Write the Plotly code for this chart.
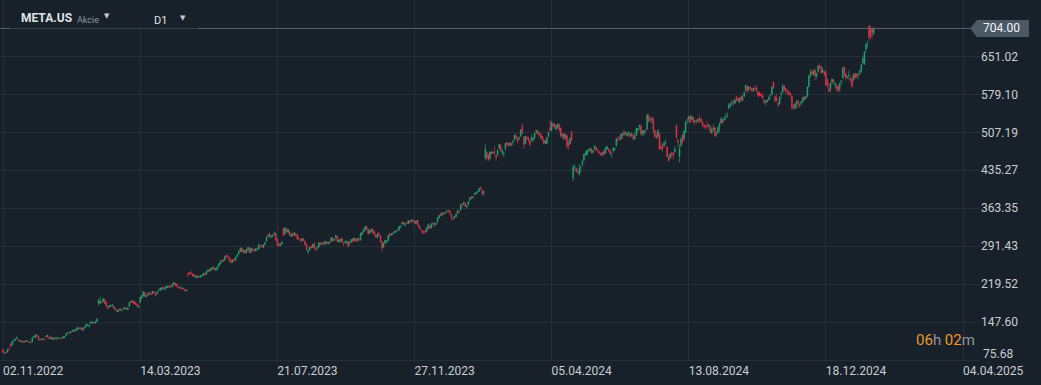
import plotly.graph_objects as go

# ---------------- data (daily bars META.US, D1) ----------------
opens = [
    # 2022-11
    95, 89, 90, 91, 97, 105, 104, 112, 113, 116, 114, 110, 113, 111, 110, 111, 112, 110, 108.5, 110,
    # 2022-12
    119, 118, 122, 121, 114, 115, 115, 115, 120, 120, 119, 116, 119, 114, 117, 117, 117, 117, 116, 117, 118,
    # 2023-01
    122, 127, 127, 128, 131, 130, 132, 132, 135, 136, 137, 132, 137, 139, 142, 140, 145, 146, 146, 146,
    # 2023-02
    149, 183, 183, 186, 186, 190, 186, 177, 176, 178, 178, 177, 172, 170, 168, 173, 169, 172, 172,
    # 2023-03
    174, 171, 177, 187, 185, 187, 183, 182, 175, 185, 192, 197, 204, 196, 199, 201, 201, 202, 205, 202, 201, 207, 208,
    # 2023-04
    209, 213, 210, 212, 213, 215, 215, 215, 219, 221, 219, 213, 212, 212, 212, 209, 208, 239, 241,
    # 2023-05
    241, 239, 237, 233, 232, 234, 233, 235, 236, 240, 238, 243, 247, 245, 250, 251, 247, 246, 253, 258, 263, 265,
    # 2023-06
    265, 274, 272, 270, 264, 261, 266, 265, 272, 276, 282, 288, 281, 283, 279, 284, 288, 280, 286, 285, 283,
    # 2023-07
    285, 286, 292.5, 292, 289, 295, 301, 311, 314, 309, 310, 314, 316, 305, 296, 293, 296, 325, 316, 324,
    # 2023-08
    318, 319, 310, 314, 312, 315, 314, 307, 303, 302, 305, 301, 295, 281, 284, 291, 289, 297, 286, 287, 290, 298, 296,
    # 2023-09
    299, 295, 300, 296, 299, 300, 306, 302, 308, 310, 299, 302, 306, 297, 298, 298, 300, 297, 299, 306,
    # 2023-10
    302, 305, 302, 306, 303, 313, 318, 322, 329, 324, 316, 319, 322, 318, 312, 308, 316, 311, 300, 290, 297, 300,
    # 2023-11
    301, 315, 313, 315, 317, 319, 321.5, 322, 328, 334, 337, 332, 335.5, 334, 339, 339, 341, 337, 335, 341, 331,
    # 2023-12
    326, 321, 318.5, 321, 319, 325, 330, 326, 334.5, 334, 332, 337, 345, 351, 350, 355, 354, 357, 359, 358,
    # 2024-01
    351, 344.5, 345, 347, 353, 357.5, 360, 371, 371, 373, 366, 370, 380, 385, 383, 389, 391, 394, 395, 402, 397,
    # 2024-02
    393, 459, 469, 464, 458, 468, 470, 469.5, 463, 465, 477, 481, 469, 466, 476, 488, 485, 483, 485, 489,
    # 2024-03
    493, 500, 496, 495, 500, 518, 498, 486, 498, 496, 491, 492, 493, 496, 511, 506, 505, 503, 500, 493,
    # 2024-04
    487, 486, 499, 516, 510, 523, 522, 513, 517, 522, 515, 500, 505, 497, 501, 487, 485, 508, 421, 441, 439, 431,
    # 2024-05
    428, 441, 446, 454, 465, 464, 472, 474, 476, 469, 475, 478, 472.5, 470, 468, 466, 472, 468, 475, 475, 473, 466,
    # 2024-06
    472, 475, 482, 495.5, 495, 494, 504, 503, 508, 501, 505, 505, 501, 502, 495, 501, 512, 517, 519,
    # 2024-07
    505, 506, 511, 513, 538, 531, 532, 533, 511, 500, 499, 505, 481, 479, 481, 488, 480, 460, 458, 468, 468, 470,
    # 2024-08
    520, 491, 461, 482, 502, 495, 508, 530, 532, 538, 532, 535, 528, 528, 528, 532, 533, 527, 521, 519, 520, 519,
    # 2024-09
    518, 506, 513, 516, 505, 507, 517, 525, 531, 531, 536, 537, 553, 557, 563, 565, 562, 574, 570, 564,
    # 2024-10
    575, 568, 575, 587, 594, 589, 592, 590, 585, 591, 591, 584, 581, 579, 576, 568, 565, 565, 569, 577, 579, 602, 575,
    # 2024-11
    571, 562, 561, 579, 583, 595, 590, 585, 583, 581, 575, 556, 552, 561, 566, 561, 562, 565, 575, 571,
    # 2024-12
    575, 594, 614, 622, 617, 624, 614, 622, 633, 632, 621, 622, 620, 606, 590, 590, 602, 606, 597, 596, 594,
    # 2025-01 / 02
    590, 602, 611, 630, 618, 611, 614, 610, 608, 607, 619, 617, 616, 620, 623, 639, 636, 665, 675, 708, 702, 704, 694,
]

highs = [
    # 2022-11
    96, 91, 91, 97, 98, 108, 112, 115, 118, 121, 115, 113, 114, 111, 111, 113, 113, 111, 110, 118,
    # 2022-12
    121, 124, 124, 122, 116, 116, 117, 115, 123, 124, 120, 120, 120, 118, 118, 118, 119, 118, 118, 121, 120,
    # 2023-01
    127, 129, 128, 130, 133, 133, 133, 137, 138, 137, 138, 137, 140, 145, 144, 142, 148, 149, 148, 149,
    # 2023-02
    155, 191, 196, 187, 192, 192, 186, 178, 180, 181, 181, 177, 174, 171, 172, 174, 171, 174, 176,
    # 2023-03
    176, 175, 186, 189, 190, 188, 187, 183, 180, 195, 198, 206, 204, 199, 204, 205, 204, 207, 206, 202, 206, 209, 212,
    # 2023-04
    214, 215, 214, 217, 216, 218, 218, 221, 224, 222, 220, 214, 216, 213, 213, 210, 210, 242, 242,
    # 2023-05
    245, 240, 239, 236, 236, 236, 236, 237, 240, 241, 244, 248, 248, 251, 253, 252, 250, 253, 259, 264, 266, 268,
    # 2023-06
    273, 276, 274, 271, 268, 266, 268, 272, 276, 284, 289, 289, 285, 284, 286, 290, 290, 288, 288, 286, 288,
    # 2023-07
    289, 296, 294, 294, 295, 299, 310, 314, 318, 312, 314, 319, 317, 306, 297, 297, 301, 327, 326, 326,
    # 2023-08
    324, 320, 316, 318, 317, 316, 314, 309, 305, 307, 307, 302, 296, 286, 290, 292, 295, 297, 289, 291, 299, 298, 299,
    # 2023-09
    300, 302, 301, 300, 301, 308, 308, 306, 312, 311, 305, 306, 307, 299, 303, 301, 302, 301, 305, 306,
    # 2023-10
    308, 306, 306, 306, 317, 319, 325, 329, 330, 325, 322, 326, 325, 322, 313, 317, 317, 312, 301, 298, 303, 302,
    # 2023-11
    312, 317, 316, 317, 321, 321, 324, 329, 330, 337, 338, 335, 337, 341, 340, 342, 342, 340, 340, 341, 332,
    # 2023-12
    327, 322, 321, 323, 327, 334, 331, 335, 336, 337, 336, 346, 351, 356, 355, 356, 356, 359, 361, 359,
    # 2024-01
    353, 347, 349, 353, 359, 360, 372, 372, 376, 374, 369, 377, 384, 387, 386, 392, 395, 397, 402, 405, 399,
    # 2024-02
    395, 485, 471, 467, 471, 471, 471, 481, 465, 475, 485, 485, 476, 469, 487, 489, 488, 489, 488, 493,
    # 2024-03
    503, 505, 499, 500, 513, 524, 500, 500, 500, 499, 492, 503, 498, 506, 512, 510, 508, 507, 500, 494,
    # 2024-04
    492, 498, 509, 531, 528, 526, 525, 520, 525, 523, 516, 504, 506, 505, 502, 492, 497, 510, 446, 446, 440, 436,
    # 2024-05
    447, 444, 455, 466, 472, 473, 476, 477, 477, 473, 482, 479, 475, 473, 469, 470, 473, 479, 482, 478, 475, 468,
    # 2024-06
    479, 478, 496, 500, 500, 505, 506, 512, 508, 506, 510, 507, 508, 503, 507, 516, 515, 522, 522,
    # 2024-07
    511, 511, 513, 543, 542, 537, 536, 535, 512, 507, 513, 506, 489, 485, 490, 493, 481, 465, 468, 470, 470, 481,
    # 2024-08
    523, 495, 484, 499, 504, 510, 528, 534, 538, 540, 539, 536, 530, 531, 534, 540, 534, 529, 523, 521, 528, 523,
    # 2024-09
    521, 516, 523, 517, 508, 518, 526, 536, 534, 538, 543, 545, 563, 564, 568, 568, 571, 576, 574, 573,
    # 2024-10
    578, 577, 584, 598, 596, 595, 595, 591, 592, 596, 596, 585, 584, 582, 579, 570, 568, 570, 577, 580, 595, 603, 577,
    # 2024-11
    580, 565, 575, 584, 599, 597, 591, 588, 587, 582, 576, 560, 563, 568, 568, 563, 568, 574, 576, 576,
    # 2024-12
    595, 616, 627, 626, 625, 629, 620, 635, 638, 633, 630, 624, 626, 610, 600, 602, 608, 608, 602, 598, 596,
    # 2025-01 / 02
    601, 606, 630, 632, 619, 613, 625, 611, 613, 618, 620, 619, 620, 626, 637, 652, 660, 675, 680, 711, 710, 706, 706,
]

lows = [
    # 2022-11
    90, 88, 87, 91, 94, 101, 103, 109, 112, 115, 112, 110, 110, 108, 108, 110, 110, 108, 108, 109,
    # 2022-12
    117, 118, 120, 113, 113, 113, 114, 112, 118, 119, 115, 115, 114, 113, 116, 113, 116, 115, 115, 117, 118,
    # 2023-01
    122, 125, 125, 126, 129, 129, 130, 131, 134, 134, 132, 131, 135, 139, 140, 137, 144, 146, 145, 145,
    # 2023-02
    147, 178, 182, 183, 185, 182, 177, 172, 175, 176, 177, 172, 169, 167, 167, 169, 168, 171, 172,
    # 2023-03
    171, 170, 176, 183, 184, 182, 180, 176, 174, 183, 191, 195, 195, 193, 197, 199, 198, 200, 201, 196, 200, 205, 207,
    # 2023-04
    208, 209, 207, 211, 212, 213, 213, 214, 218, 216, 213, 211, 210, 210, 208, 206, 205, 233, 236,
    # 2023-05
    238, 234, 233, 230, 231, 231, 231, 232, 235, 236, 237, 242, 243, 244, 248, 245, 245, 245, 251, 256, 260, 262,
    # 2023-06
    264, 270, 268, 262, 259, 260, 263, 264, 270, 275, 280, 279, 278, 277, 278, 283, 278, 279, 283, 280, 282,
    # 2023-07
    283, 285, 288, 289, 288, 293, 300, 308, 307, 306, 308, 312, 301, 292, 290, 291, 294, 310, 313, 317,
    # 2023-08
    316, 311, 309, 309, 311, 309, 303, 303, 299, 300, 301, 294, 285, 275, 283, 287, 288, 286, 281, 285, 289, 293, 294,
    # 2023-09
    294, 294, 295, 294, 296, 299, 301, 301, 304, 299, 298, 299, 299, 292, 296, 296, 288, 292, 298, 299,
    # 2023-10
    301, 299, 300, 300, 302, 312, 317, 321, 321, 313, 315, 317, 315, 311, 307, 306, 310, 298, 280, 288, 296, 297,
    # 2023-11
    300, 309, 311, 312, 316, 316, 319, 320, 325, 331, 331, 328, 333, 334, 334, 336, 337, 333, 333, 331, 325,
    # 2023-12
    321, 315, 314, 316, 318, 324, 324, 325, 330, 328, 331, 336, 343, 348, 348, 351, 352, 354, 356, 351,
    # 2024-01
    340, 340, 343, 346, 352, 354, 359, 364, 369, 366, 362, 369, 377, 380, 382, 388, 388, 391, 395, 398, 390,
    # 2024-02
    386, 453, 456, 453, 454, 465, 465, 465, 453, 462, 475, 470, 464, 460, 472, 481, 480, 480, 481, 483,
    # 2024-03
    492, 494, 486, 492, 498, 503, 476, 484, 492, 489, 481, 490, 488, 494, 504, 502, 499, 495, 490, 484,
    # 2024-04
    485, 485, 498, 510, 509, 516, 513, 511, 514, 508, 497, 496, 492, 494, 475, 474, 484, 490, 414, 435, 431, 429,
    # 2024-05
    425, 431, 444, 453, 463, 463, 469, 470, 467, 467, 474, 472, 468, 465, 461, 462, 462, 467, 474, 469, 465, 458,
    # 2024-06
    469, 472, 480, 489, 491, 493, 495, 501, 500, 499, 500, 497, 499, 492, 492, 500, 507, 511, 501,
    # 2024-07
    500, 500, 505, 512, 525, 526, 524, 506, 497, 494, 497, 473, 474, 470, 479, 484, 460, 453, 456, 460, 456, 468,
    # 2024-08
    494, 479, 450, 478, 486, 491, 505, 522, 527, 526, 530, 525, 522, 524, 526, 524, 525, 517, 515, 511, 516, 513,
    # 2024-09
    505, 504, 510, 499, 499, 504, 508, 523, 524, 528, 530, 535, 551, 553, 558, 558, 561, 565, 565, 562,
    # 2024-10
    565, 566, 574, 584, 582, 585, 586, 583, 584, 588, 583, 573, 575, 574, 568, 561, 558, 563, 567, 572, 578, 589, 564,
    # 2024-11
    565, 554, 559, 571, 582, 586, 580, 578, 577, 573, 550, 550, 551, 553, 553, 555, 558, 563, 567, 569,
    # 2024-12
    574, 592, 611, 616, 614, 606, 608, 620, 627, 618, 620, 613, 595, 592, 584, 583, 598, 600, 590, 585, 583,
    # 2025-01 / 02
    584, 596, 608, 612, 605, 609, 606, 600, 592, 604, 608, 609, 608, 615, 620, 636, 635, 658, 668, 680, 684, 684, 691,
]

closes = [
    # 2022-11
    90, 88.5, 91, 96, 96, 101, 111, 113, 114, 117, 113, 111, 112, 109, 111, 112, 111, 109, 109.5, 118,
    # 2022-12
    120, 124, 122, 114, 113.5, 115.5, 116, 114.5, 119, 122, 116, 119, 115, 117, 118, 118, 118, 117, 116, 120, 120,
    # 2023-01
    125, 127.5, 126, 130, 130, 133, 133, 137, 137, 135, 133, 136, 139, 143, 143, 142, 148, 147.5, 145, 149,
    # 2023-02
    153, 189, 187, 185, 192, 183, 178, 174, 179, 179, 180, 173, 173, 167, 171, 171, 170, 173, 175,
    # 2023-03
    173, 174, 185, 185, 187, 182, 181, 179, 178, 194, 198, 205, 196, 198, 202, 200, 200, 206, 203, 198, 205, 208, 212,
    # 2023-04
    213, 211, 212, 216, 215, 214, 214, 220, 222, 217, 215, 212, 213, 211, 210, 207, 209, 238, 240,
    # 2023-05
    239, 236, 234, 235, 235, 233, 235, 236, 240, 238, 243, 246, 244, 250, 251, 247, 248, 252, 258, 262, 264, 263,
    # 2023-06
    272, 272, 271, 263, 260, 265, 264, 271, 275, 282, 287, 281, 284, 279, 285, 289, 279, 287, 285, 282, 287,
    # 2023-07
    286, 294, 292, 290, 294, 298, 309, 313, 309, 311, 312, 316, 303, 294, 292, 295, 299, 312, 326, 319,
    # 2023-08
    323, 312, 313, 311, 317, 313, 305, 306, 302, 306, 302, 294, 285, 283, 290, 288, 295, 287, 285, 290, 298, 295, 296,
    # 2023-09
    296, 300, 299, 299, 298, 308, 302, 305, 312, 300, 303, 305, 299, 296, 299, 301, 292, 298, 304, 300,
    # 2023-10
    307, 301, 306, 305, 315, 318, 322, 328, 324, 315, 321, 324, 317, 313, 309, 314, 313, 300, 288, 297, 303, 301,
    # 2023-11
    312, 311, 315, 316, 319, 320, 321, 329, 329.5, 336, 333, 334, 335, 340, 337, 341, 338, 335, 339, 332, 327,
    # 2023-12
    325, 320, 318, 317, 327, 333, 325, 334, 335, 333, 335, 345, 350, 349, 354, 353, 355, 358, 358, 354,
    # 2024-01
    346, 344, 347, 352, 359, 357, 370, 370, 374, 367, 368, 376, 383, 382, 385, 391, 393, 394.5, 401, 400, 390,
    # 2024-02
    395, 475, 459, 455, 470, 470, 468, 469, 460, 473, 484, 473, 472, 468, 486, 484, 482, 487, 484, 490,
    # 2024-03
    502, 498, 490, 496, 512, 506, 484, 500, 496, 492, 484, 497, 496, 506, 508, 510, 503, 496, 494, 486,
    # 2024-04
    491, 497, 507, 511, 527, 519, 517, 520, 523, 512, 500, 504, 494, 502, 481, 482, 496, 493, 441, 443, 433, 430,
    # 2024-05
    439, 442, 452, 466, 468, 473, 475, 476, 468, 472, 482, 473, 472, 469, 465, 468, 466, 478, 480, 474, 467, 467,
    # 2024-06
    477, 477, 495, 495, 494, 504, 501, 507, 504, 505, 507, 499, 502, 495, 499, 515, 514, 520, 504,
    # 2024-07
    510, 510, 510, 540, 529, 530, 534, 512, 499, 496, 511, 476, 477, 476, 487, 489, 461, 453, 466, 466, 463, 475,
    # 2024-08
    498, 488, 476, 494, 489, 510, 527, 530.5, 537, 525, 537, 527, 529, 526, 532, 531, 528, 521, 519, 517, 518, 521,
    # 2024-09
    509, 512, 515, 500, 505, 517, 524, 533, 525, 533, 536.5, 538, 559, 561, 564, 563, 568, 568, 567, 572,
    # 2024-10
    569, 573, 583, 596, 585, 593, 591, 587, 590, 590, 586, 577, 577, 576, 573, 563, 566, 568, 573, 578, 593, 592, 567,
    # 2024-11
    567, 560, 574, 581, 596, 589, 585, 584, 580, 577, 554, 554.5, 561, 566, 563, 559, 565, 573, 569, 574,
    # 2024-12
    593, 614, 620, 618, 624, 614, 619, 633, 631, 620, 624, 618, 597, 596, 585, 600, 608, 603, 600, 591, 586,
    # 2025-01 / 02
    599, 605, 630, 618, 611, 612, 616, 608, 594, 617, 611, 613, 617, 624, 636, 647, 660, 674, 676, 687, 689, 697, 704,
]

date_labels = ["02.11.2022", "14.03.2023", "21.07.2023", "27.11.2023",
               "05.04.2024", "13.08.2024", "18.12.2024", "04.04.2025"]
date_label_bar = [0, 89, 178, 267, 356, 445, 534, 623]
price_ticks = [75.68, 147.60, 219.52, 291.43, 363.35, 435.27, 507.19, 579.10, 651.02]
last_price = 704.00

_lens = {len(opens), len(highs), len(lows), len(closes)}
if len(_lens) != 1:
    raise SystemExit(f"length mismatch: {len(opens)} {len(highs)} {len(lows)} {len(closes)}")

# ---------------- style ----------------
BG = "#18212a"
GRID = "#252f39"
GREEN = "#22ab74"
RED = "#f0344b"
TXT = "#c9ced3"
FONT = "Roboto"

W, H = 1041, 385
ML, MR, MT, MB = 0, 61, 0, 23
PW, PH = W - ML - MR, H - MT - MB

bars = list(range(len(closes)))

fig = go.Figure(go.Candlestick(
    x=bars, open=opens, high=highs, low=lows, close=closes,
    increasing=dict(line=dict(color=GREEN, width=0.6), fillcolor=GREEN),
    decreasing=dict(line=dict(color=RED, width=0.6), fillcolor=RED),
    whiskerwidth=0, hoverinfo="skip", showlegend=False,
))

px_per_bar = 960 / 623.0
x0 = -3 / px_per_bar
x1 = x0 + PW / px_per_bar
price_per_px = (price_ticks[-1] - price_ticks[0]) / (8 * 37.95)
y_bottom = price_ticks[0] - 2 * price_per_px
y_top = y_bottom + PH * price_per_px

fig.update_layout(
    width=W, height=H,
    margin=dict(l=ML, r=MR, t=MT, b=MB),
    paper_bgcolor=BG, plot_bgcolor=BG,
    font=dict(family=FONT, color=TXT, size=12),
    xaxis=dict(
        range=[x0, x1], rangeslider=dict(visible=False),
        tickvals=date_label_bar, ticktext=date_labels,
        showgrid=True, gridcolor=GRID, gridwidth=1, zeroline=False,
        showline=False, ticks="", ticklabelposition="outside right",
        tickfont=dict(family=FONT, size=12, color=TXT),
    ),
    yaxis=dict(
        range=[y_bottom, y_top], side="right",
        tickvals=price_ticks,
        ticktext=[""] + [f"{v:.2f}" for v in price_ticks[1:]],
        showgrid=True, gridcolor=GRID, gridwidth=1, zeroline=False,
        showline=False, ticks="",
        tickfont=dict(family=FONT, size=12, color=TXT),
    ),
    hovermode=False,
)

def px_x(p):
    return (p - ML) / PW

def px_y(p):
    return 1 - (p - MT) / PH

tag_h = 8.5 * price_per_px
shapes = [
    # last price line
    dict(type="line", xref="paper", yref="y", x0=0, x1=px_x(971), y0=last_price, y1=last_price,
         line=dict(color="#56646f", width=1), layer="above"),
    # header panel hiding the grid / line
    dict(type="rect", xref="paper", yref="paper", x0=px_x(10), x1=px_x(198), y0=px_y(28.6), y1=1,
         fillcolor=BG, line=dict(width=0), layer="above"),
    # price tag
    dict(type="path", xref="paper", yref="y",
         path=(f"M {px_x(970)},{last_price} L {px_x(977)},{last_price + tag_h} "
               f"L {px_x(1029)},{last_price + tag_h} L {px_x(1029)},{last_price - tag_h} "
               f"L {px_x(977)},{last_price - tag_h} Z"),
         fillcolor="#4a5965", line=dict(width=0), layer="above"),
]
fig.update_layout(shapes=shapes)

ann = [
    dict(text=f"{last_price:.2f}", xref="paper", yref="y", x=px_x(981), y=last_price,
         xanchor="left", yanchor="middle", showarrow=False,
         font=dict(family=FONT, size=12, color="#f2f4f6")),
    dict(text=f"{price_ticks[0]:.2f}", xref="paper", yref="y", x=px_x(981), y=price_ticks[0],
         xanchor="left", yanchor="middle", yshift=6, showarrow=False,
         font=dict(family=FONT, size=12, color=TXT)),
    dict(text="<b>META.US</b>", xref="paper", yref="paper", x=px_x(19), y=px_y(18.5),
         xanchor="left", yanchor="middle", showarrow=False,
         font=dict(family=FONT, size=12, color="#dfe3e7")),
    dict(text="Akcie", xref="paper", yref="paper", x=px_x(75), y=px_y(19.5),
         xanchor="left", yanchor="middle", showarrow=False,
         font=dict(family=FONT, size=9, color="#8e99a3")),
    dict(text="▼", xref="paper", yref="paper", x=px_x(107), y=px_y(16.5),
         xanchor="center", yanchor="middle", showarrow=False,
         font=dict(family="DejaVu Sans", size=7, color="#c4cad0")),
    dict(text="D1", xref="paper", yref="paper", x=px_x(152), y=px_y(20.5),
         xanchor="left", yanchor="middle", showarrow=False,
         font=dict(family=FONT, size=11, color="#dfe3e7")),
    dict(text="▼", xref="paper", yref="paper", x=px_x(183), y=px_y(17.5),
         xanchor="center", yanchor="middle", showarrow=False,
         font=dict(family="DejaVu Sans", size=7, color="#c4cad0")),
    dict(text=("<span style='color:#ef9a22'>06</span>h "
               "<span style='color:#ef9a22'>02</span>m"),
         xref="paper", yref="paper", x=px_x(914), y=px_y(340),
         xanchor="left", yanchor="middle", showarrow=False,
         font=dict(family=FONT, size=15, color="#8d979f")),
]
fig.update_layout(annotations=ann)

fig.write_html(
    "out.html",
    config={"displayModeBar": False},
    post_script="document.body.style.margin='0';document.body.style.padding='0';",
)
